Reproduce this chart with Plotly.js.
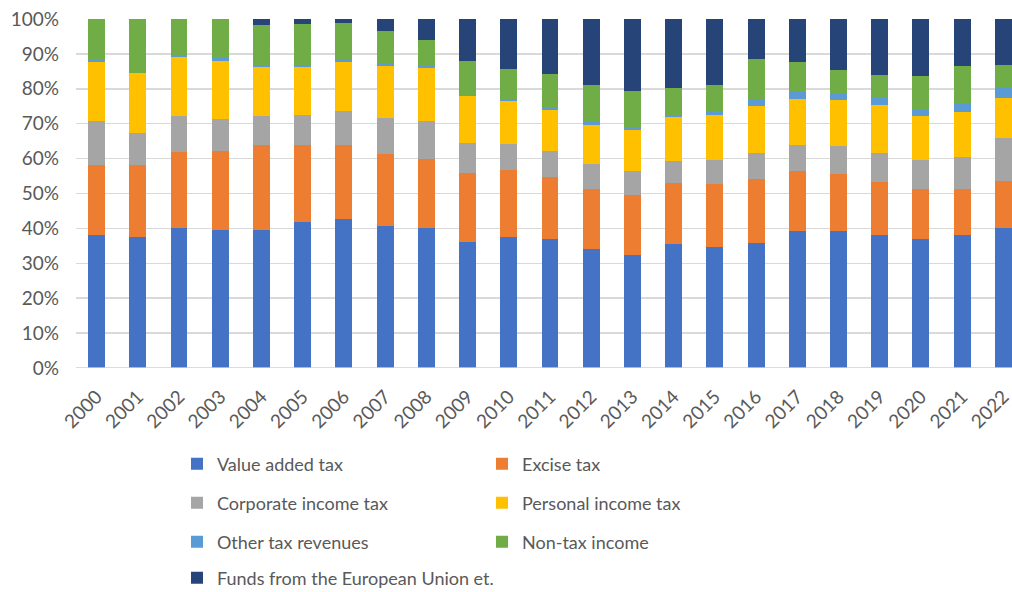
<!DOCTYPE html>
<html>
<head>
<meta charset="utf-8">
<script src="https://cdn.plot.ly/plotly-3.0.1.min.js"></script>
<style>html,body{margin:0;padding:0;background:#fff;}#chart{width:1012px;height:592px;}</style>
</head>
<body>
<div id="chart"></div>
<script>
const years = ["2000","2001","2002","2003","2004","2005","2006","2007","2008","2009","2010","2011","2012","2013","2014","2015","2016","2017","2018","2019","2020","2021","2022"];
const valueAddedTax = [38.0,37.6,40.0,39.6,39.6,41.9,42.6,40.7,40.0,36.2,37.4,37.0,34.2,32.5,35.5,34.8,35.8,39.3,39.3,38.0,37.0,38.0,40.0];
const exciseTax     = [20.1,20.5,22.0,22.7,24.3,22.0,21.3,20.6,20.0,19.6,19.3,17.8,17.1,17.2,17.4,17.8,18.4,17.2,16.3,15.3,14.3,13.3,13.6];
const corporateTax  = [12.6,9.3,10.2,9.1,8.3,8.7,9.8,10.4,10.7,8.7,7.5,7.4,7.2,6.8,6.4,7.1,7.4,7.4,8.0,8.3,8.4,9.1,12.3];
const personalTax   = [16.9,17.0,17.0,16.7,14.0,13.6,14.1,14.9,15.2,13.3,12.4,11.8,11.0,11.6,12.5,12.9,13.6,13.3,13.3,13.9,12.6,12.9,11.6];
const otherTax      = [0.6,0.2,0.4,0.7,0.4,0.4,0.6,0.7,0.7,0.3,0.6,0.6,0.9,0.9,0.5,0.9,1.9,2.0,2.0,2.0,2.0,2.6,2.9];
const nonTaxIncome  = [11.8,15.4,10.4,11.2,11.6,12.0,10.5,9.3,7.5,10.0,8.4,9.7,10.7,10.4,7.8,7.6,11.4,8.4,6.4,6.4,9.3,10.7,6.5];
const euFunds       = [0,0,0,0,1.8,1.4,1.1,3.4,5.9,11.9,14.4,15.7,18.9,20.6,19.9,18.9,11.5,12.4,14.7,16.1,16.4,13.4,13.1];
const seriesNames = ["Value added tax","Excise tax","Corporate income tax","Personal income tax","Other tax revenues","Non-tax income","Funds from the European Union et."];
const yTickVals = [0,10,20,30,40,50,60,70,80,90,100];
const yTickText = ["0%","10%","20%","30%","40%","50%","60%","70%","80%","90%","100%"];

const colors = ["#4472C4","#ED7D31","#A5A5A5","#FFC000","#5B9BD5","#70AD47","#264478"];
const seriesData = [valueAddedTax,exciseTax,corporateTax,personalTax,otherTax,nonTaxIncome,euFunds];
const legendIds = ["legend","legend2","legend3","legend4","legend5","legend6","legend7"];

const traces = seriesData.map((vals,i)=>({
  type:"bar", x:years, y:vals, name:seriesNames[i],
  marker:{color:colors[i], line:{width:0}},
  legend: legendIds[i], hoverinfo:"none"
}));

const fam = "Lato, 'Open Sans', sans-serif";
const tickFont = {family:fam, size:19, color:"#595959"};
const legFont = {family:fam, size:18, color:"#595959"};
// legend positions: text left x, row center y (px)
const legPos = [[217,464],[522,464],[217,503],[522,503],[217,542],[522,542],[217,578]];
const layout = {
  width:1012, height:592,
  margin:{l:76, r:0, t:19, b:224, pad:0},
  paper_bgcolor:"#fff", plot_bgcolor:"#fff",
  barmode:"stack", bargap:0.59,
  font: legFont,
  xaxis:{type:"category", range:[-0.5,22.21], tickangle:-45, tickfont:tickFont,
         showgrid:false, zeroline:false, showline:false, ticks:"", ticklabelstandoff:13, fixedrange:true},
  yaxis:{range:[0,100], tickvals:yTickVals, ticktext:yTickText, tickfont:tickFont,
         showgrid:true, gridcolor:"#d9d9d9", gridwidth:1.5, zeroline:false, showline:false,
         ticks:"", ticklabelstandoff:16, fixedrange:true},
  shapes:[{type:"line", xref:"paper", yref:"y", x0:0, x1:1, y0:0, y1:0, line:{color:"#d0d0d0", width:1.5}}],
  showlegend:true
};
legendIds.forEach((id,i)=>{
  layout[id] = {xref:"container", yref:"container", x:(legPos[i][0]-40)/1012, y:1-legPos[i][1]/592,
    xanchor:"left", yanchor:"middle", orientation:"h", bgcolor:"rgba(0,0,0,0)", font:legFont};
});
Plotly.newPlot("chart", traces, layout, {displayModeBar:false, staticPlot:true});
</script>
</body>
</html>
